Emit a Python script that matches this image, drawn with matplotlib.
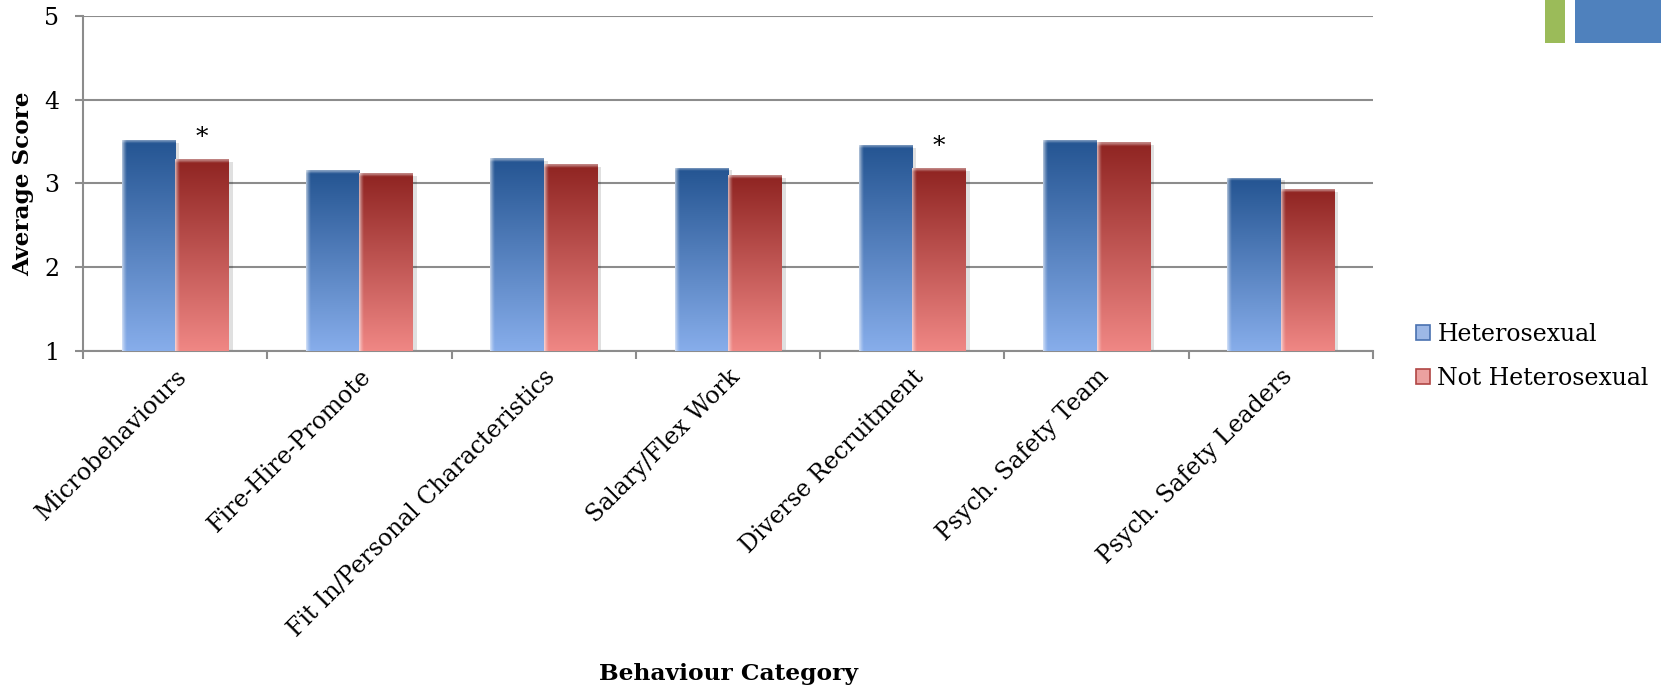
import numpy as np
import matplotlib
matplotlib.use("Agg")
import matplotlib.pyplot as plt
from matplotlib.patches import Patch, Rectangle
import matplotlib.patheffects as pe

plt.rcParams['font.family'] = ['DejaVu Serif']

# data
categories = ['Microbehaviours', 'Fire-Hire-Promote', 'Fit In/Personal Characteristics',
              'Salary/Flex Work', 'Diverse Recruitment', 'Psych. Safety Team',
              'Psych. Safety Leaders']
hetero = [3.52, 3.16, 3.30, 3.19, 3.46, 3.52, 3.07]
not_hetero = [3.29, 3.12, 3.23, 3.10, 3.18, 3.49, 2.93]
significant = [True, False, False, False, True, False, False]
series_names = ['Heterosexual', 'Not Heterosexual']

# colour ramps (light at bottom, dark at top)
blue_light, blue_dark = np.array([0.53, 0.68, 0.92]), np.array([0.14, 0.33, 0.57])
red_light, red_dark = np.array([0.94, 0.53, 0.52]), np.array([0.56, 0.14, 0.13])
grid_col = '#8c8c8c'


def ramp(light, dark, rows=300, cols=60):
    t = np.linspace(0, 1, rows)[:, None, None]
    img = light * (1 - t) + dark * t
    img = np.repeat(img, cols, axis=1)
    # soft highlight on the left edge and top
    for k, a in enumerate([0.6, 0.45, 0.3, 0.18, 0.08]):
        img[:, k, :] = img[:, k, :] * (1 - a) + a
    for k, a in enumerate([0.45, 0.4, 0.35, 0.25, 0.15, 0.05]):
        img[rows - 1 - k, :, :] = img[rows - 1 - k, :, :] * (1 - a) + a
    return np.clip(img, 0, 1)


def gradient_bars(ax, bars, light, dark):
    img = ramp(light, dark)
    for b in bars:
        x, y = b.get_xy()
        w, h = b.get_width(), b.get_height()
        im = ax.imshow(img, extent=[x, x + w, y, y + h], origin='lower',
                       aspect='auto', zorder=3, interpolation='bilinear')
        im.set_clip_path(b)


fig = plt.figure(figsize=(16.61, 6.94), dpi=100)
ax = fig.add_axes([0.05, 0.4942, 0.7766, 0.4828])

x = np.arange(len(categories))
w = 0.29
shadow = [pe.SimplePatchShadow(offset=(3, -2), shadow_rgbFace='#000000', alpha=0.12), pe.Normal()]
b1 = ax.bar(x - w / 2, np.array(hetero) - 1, w, bottom=1, color=blue_dark, zorder=2,
            path_effects=shadow)
b2 = ax.bar(x + w / 2, np.array(not_hetero) - 1, w, bottom=1, color=red_dark, zorder=2,
            path_effects=shadow)
gradient_bars(ax, b1, blue_light, blue_dark)
gradient_bars(ax, b2, red_light, red_dark)

for i, s in enumerate(significant):
    if s:
        ax.text(x[i] + w / 2, not_hetero[i] + 0.18, '*', ha='center', va='baseline',
                fontsize=18, zorder=5)

ax.set_xlim(-0.5, len(categories) - 0.5)
ax.set_ylim(1, 5)
ax.set_yticks([1, 2, 3, 4, 5])
ax.yaxis.grid(True, color=grid_col, linewidth=1.5, zorder=0)
ax.set_axisbelow(True)

for side in ['top', 'right']:
    ax.spines[side].set_visible(False)
for side in ['left', 'bottom']:
    ax.spines[side].set_color(grid_col)
    ax.spines[side].set_linewidth(1.5)

ax.tick_params(axis='y', length=6, width=1.5, color=grid_col, labelsize=17, pad=11)
ax.set_xticks(x)
ax.set_xticklabels(categories, rotation=45, ha='right', rotation_mode='anchor', fontsize=17)
ax.tick_params(axis='x', which='major', length=0, pad=10)
ax.set_xticks(np.arange(len(categories) + 1) - 0.5, minor=True)
ax.tick_params(axis='x', which='minor', length=6, width=1.5, color=grid_col)

ax.set_ylabel('Average Score', fontsize=16.7, fontweight='bold')
ax.yaxis.set_label_coords(-0.038, 0.5)
ax.set_xlabel('Behaviour Category', fontsize=16.8, fontweight='bold')
ax.xaxis.set_label_coords(0.5, -0.93)

handles = [Patch(facecolor='#9db8e6', edgecolor='#4a72b0', linewidth=1.2),
           Patch(facecolor='#eba1a0', edgecolor='#b04644', linewidth=1.2)]
fig.legend(handles, series_names, loc='center left', bbox_to_anchor=(0.8525, 0.4863),
           frameon=False, fontsize=17, handlelength=0.6, handleheight=0.6,
           handletextpad=0.3, labelspacing=0.9, borderpad=0, borderaxespad=0)

# slide decoration in the top-right corner
fig.add_artist(Rectangle((1545 / 1661, 1 - 43 / 694), 20 / 1661, 43 / 694,
                         transform=fig.transFigure, color='#9bbb59', lw=0))
fig.add_artist(Rectangle((1575 / 1661, 1 - 43 / 694), 86 / 1661, 43 / 694,
                         transform=fig.transFigure, color='#4f81bd', lw=0))

fig.savefig('out.png', dpi=100, facecolor='white')
